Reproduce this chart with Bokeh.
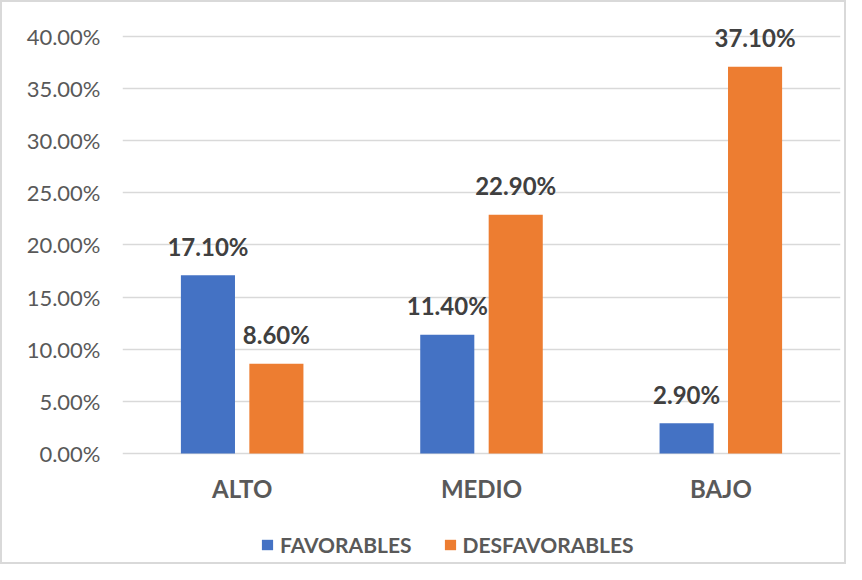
from bokeh.plotting import figure
from bokeh.models import (FactorRange, Range1d, FixedTicker, NumeralTickFormatter,
                          Legend, LegendItem, ColumnDataSource)
from bokeh.transform import dodge
from bokeh.core.properties import value
from bokeh.embed import file_html
from bokeh.resources import INLINE

categories = ["ALTO", "MEDIO", "BAJO"]
series_names = ["FAVORABLES", "DESFAVORABLES"]
favorables = [0.171, 0.114, 0.029]
desfavorables = [0.086, 0.229, 0.371]
y_ticks = [0.0, 0.05, 0.10, 0.15, 0.20, 0.25, 0.30, 0.35, 0.40]

BLUE = "#4472C4"
ORANGE = "#ED7D31"
FONT = "Lato"

src = ColumnDataSource(dict(
    cat=categories,
    fav=favorables,
    des=desfavorables,
    fav_lbl=[f"{v * 100:.2f}%" for v in favorables],
    des_lbl=[f"{v * 100:.2f}%" for v in desfavorables],
))

p = figure(x_range=FactorRange(*categories), y_range=Range1d(-0.10839, 0.43261),
           width=846, height=564, output_backend="svg", toolbar_location=None,
           x_axis_location=None,
           min_border_left=120, min_border_right=8, min_border_top=0,
           min_border_bottom=0)
p.styles = {"border": "2px solid #D9D9D9", "box-sizing": "border-box"}

r1 = p.vbar(x=dodge("cat", -0.143, range=p.x_range), top="fav", width=0.226,
            source=src, fill_color=BLUE, line_color=None)
r2 = p.vbar(x=dodge("cat", 0.143, range=p.x_range), top="des", width=0.226,
            source=src, fill_color=ORANGE, line_color=None)

for col, lbl, off in (("fav", "fav_lbl", -0.143), ("des", "des_lbl", 0.143)):
    p.text(x=dodge("cat", off, range=p.x_range), y=col, text=lbl, source=src,
           text_align="center", text_baseline="middle", y_offset=-29,
           text_font=value(FONT), text_font_style="bold",
           text_font_size="24px", text_color="#404040")

# category labels under the zero line
p.text(x="cat", y=0, text="cat", source=src, text_align="center",
       text_baseline="middle", y_offset=35, text_font=value(FONT),
       text_font_style="bold", text_font_size="24px", text_color="#595959")

p.outline_line_color = None
p.xgrid.grid_line_color = None
p.ygrid.grid_line_color = "#D9D9D9"
p.ygrid.grid_line_width = 1.5

p.yaxis.ticker = FixedTicker(ticks=y_ticks)
p.yaxis.formatter = NumeralTickFormatter(format="0.00%")
p.yaxis.axis_line_color = None
p.yaxis.major_tick_line_color = None
p.yaxis.minor_tick_line_color = None
p.yaxis.major_label_text_font = FONT
p.yaxis.major_label_text_font_size = "22px"
p.yaxis.major_label_text_color = "#595959"
p.yaxis.major_label_standoff = 16

legend = Legend(items=[LegendItem(label=series_names[0], renderers=[r1]),
                       LegendItem(label=series_names[1], renderers=[r2])],
                orientation="horizontal", location=(138, 9),
                label_text_font=FONT, label_text_font_style="bold",
                label_text_font_size="21px", label_text_color="#595959",
                glyph_width=14, glyph_height=13, label_standoff=6, spacing=31,
                padding=0, margin=0, border_line_color=None,
                background_fill_alpha=0)
p.add_layout(legend)

open("out.html", "w").write(file_html(p, INLINE))
